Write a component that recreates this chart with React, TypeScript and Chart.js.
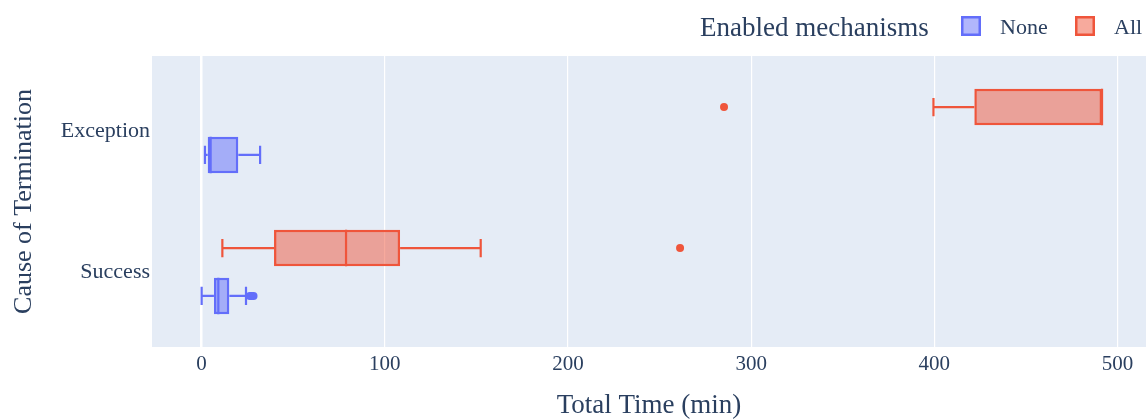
import React, { useEffect, useRef } from "react";
import { Chart, registerables } from "chart.js";

Chart.register(...registerables);

const categories = ["Exception", "Success"];
const legendTitle = "Enabled mechanisms";
const seriesNames = ["None", "All"];
const xTicks = [0, 100, 200, 300, 400, 500];

// "None" series (per category)
const noneLower = [1.9, 0.1];
const noneQ1 = [3.4, 6.8];
const noneMedian = [5.0, 9.2];
const noneQ3 = [20.1, 15.2];
const noneUpper = [32.0, 24.3];
const noneOutliers = [[], [26.4, 27.3, 28.4]];

// "All" series (per category)
const allLower = [399.5, 11.4];
const allQ1 = [421.8, 39.6];
const allMedian = [491.5, 78.9];
const allQ3 = [491.5, 108.4];
const allUpper = [491.5, 152.4];
const allOutliers = [[285.2], [261.2]];

const BLUE = "#636EFA";
const RED = "#EF553B";
const BLUE_FILL = "rgba(99,110,250,0.5)";
const RED_FILL = "rgba(239,85,59,0.5)";
const TEXT = "#2a3f5f";
const FONT = "'Liberation Serif', 'Times New Roman', serif";

const bgPlugin = {
  id: "plotBg",
  beforeDraw(chart: any) {
    const { ctx, chartArea } = chart;
    ctx.save();
    ctx.fillStyle = "#E5ECF6";
    ctx.fillRect(chartArea.left, chartArea.top, chartArea.right - chartArea.left, chartArea.bottom - chartArea.top);
    ctx.restore();
  },
};

const boxPlugin = {
  id: "boxExtras",
  afterDatasetsDraw(chart: any) {
    const { ctx } = chart;
    const xs = chart.scales.x;
    chart.data.datasets.forEach((ds: any, di: number) => {
      const meta = chart.getDatasetMeta(di);
      const st = ds.stats;
      meta.data.forEach((el: any, j: number) => {
        const { y, height } = el.getProps(["y", "height"], true);
        const h = Math.abs(height);
        const top = y - h / 2;
        const bot = y + h / 2;
        const px = (v: number) => xs.getPixelForValue(v);
        ctx.save();
        ctx.strokeStyle = ds.borderColor;
        ctx.lineWidth = 2.2;
        ctx.beginPath();
        if (st.lower[j] < st.q1[j]) {
          ctx.moveTo(px(st.lower[j]), y);
          ctx.lineTo(px(st.q1[j]), y);
          ctx.moveTo(px(st.lower[j]), y - h / 4);
          ctx.lineTo(px(st.lower[j]), y + h / 4);
        }
        if (st.upper[j] > st.q3[j]) {
          ctx.moveTo(px(st.q3[j]), y);
          ctx.lineTo(px(st.upper[j]), y);
          ctx.moveTo(px(st.upper[j]), y - h / 4);
          ctx.lineTo(px(st.upper[j]), y + h / 4);
        }
        ctx.moveTo(px(st.median[j]), top);
        ctx.lineTo(px(st.median[j]), bot);
        ctx.stroke();
        ctx.fillStyle = ds.borderColor;
        st.outliers[j].forEach((v: number) => {
          ctx.beginPath();
          ctx.arc(px(v), y, 4, 0, Math.PI * 2);
          ctx.fill();
        });
        ctx.restore();
      });
    });
  },
};

const legendPlugin = {
  id: "customLegend",
  afterDraw(chart: any) {
    const { ctx } = chart;
    ctx.save();
    ctx.fillStyle = TEXT;
    ctx.textBaseline = "middle";
    ctx.textAlign = "left";
    ctx.font = `27px ${FONT}`;
    ctx.fillText(legendTitle, 700, 29);
    const items = [
      { name: seriesNames[0], stroke: BLUE, fill: BLUE_FILL, x: 961 },
      { name: seriesNames[1], stroke: RED, fill: RED_FILL, x: 1075 },
    ];
    items.forEach((it) => {
      ctx.fillStyle = "#ffffff";
      ctx.fillRect(it.x, 16, 20, 20);
      ctx.fillStyle = it.fill;
      ctx.fillRect(it.x, 16, 20, 20);
      ctx.strokeStyle = it.stroke;
      ctx.lineWidth = 2.5;
      ctx.strokeRect(it.x + 1.25, 17.25, 17.5, 17.5);
      ctx.fillStyle = TEXT;
      ctx.font = `22px ${FONT}`;
      ctx.fillText(it.name, it.x + 39, 28);
    });
    ctx.restore();
  },
};

export default function App() {
  const ref = useRef<HTMLCanvasElement>(null);
  useEffect(() => {
    if (!ref.current) return;
    const common = {
      borderWidth: 2.5,
      borderSkipped: false,
      categoryPercentage: 0.68,
      barPercentage: 0.76,
    };
    const chart = new Chart(ref.current, {
      type: "bar",
      data: {
        datasets: [
          {
            label: seriesNames[1],
            data: categories.map((_, i) => ({ x: [allQ1[i], allQ3[i]], y: i })),
            backgroundColor: RED_FILL,
            borderColor: RED,
            ...common,
            stats: { lower: allLower, q1: allQ1, median: allMedian, q3: allQ3, upper: allUpper, outliers: allOutliers },
          } as any,
          {
            label: seriesNames[0],
            data: categories.map((_, i) => ({ x: [noneQ1[i], noneQ3[i]], y: i })),
            backgroundColor: BLUE_FILL,
            borderColor: BLUE,
            ...common,
            stats: { lower: noneLower, q1: noneQ1, median: noneMedian, q3: noneQ3, upper: noneUpper, outliers: noneOutliers },
          } as any,
        ],
      },
      options: {
        indexAxis: "y",
        responsive: false,
        animation: false,
        layout: { padding: { top: 56, left: 0, right: 0, bottom: 0 } },
        plugins: { legend: { display: false }, tooltip: { enabled: false } },
        scales: {
          x: {
            type: "linear",
            min: -27,
            max: 515.5,
            afterFit: (s: any) => { s.height = 72; },
            afterBuildTicks: (s: any) => { s.ticks = xTicks.map((v) => ({ value: v })); },
            grid: {
              color: "#ffffff",
              lineWidth: (c: any) => (c.tick && c.tick.value === 0 ? 2.5 : 1.2),
              drawTicks: false,
            },
            border: { display: false },
            ticks: { color: TEXT, font: { family: FONT, size: 21 }, padding: 5, maxRotation: 0 },
            title: {
              display: true,
              text: "Total Time (min)",
              color: TEXT,
              font: { family: FONT, size: 27, lineHeight: 1 },
              padding: { top: 0, bottom: 0 },
            },
          },
          y: {
            type: "linear",
            reverse: true,
            offset: false,
            min: -0.532,
            max: 1.532,
            afterFit: (s: any) => { s.width = 152; },
            afterBuildTicks: (s: any) => { s.ticks = categories.map((_, i) => ({ value: i })); },
            grid: { display: false, drawTicks: false, offset: false },
            border: { display: false },
            ticks: {
              color: TEXT,
              font: { family: FONT, size: 22 },
              padding: 2,
              callback: (v: any) => categories[Number(v)] ?? "",
            },
            title: {
              display: true,
              text: "Cause of Termination",
              color: TEXT,
              font: { family: FONT, size: 26, lineHeight: 1 },
              padding: { top: 11, bottom: 0 },
            },
          },
        },
      },
      plugins: [bgPlugin, boxPlugin, legendPlugin],
    });
    return () => chart.destroy();
  }, []);
  return (
    <div style={{ position: "absolute", left: 0, top: 0, width: 1146, height: 419, background: "#fff" }}>
      <canvas ref={ref} width={1146} height={419} style={{ display: "block" }} />
    </div>
  );
}
